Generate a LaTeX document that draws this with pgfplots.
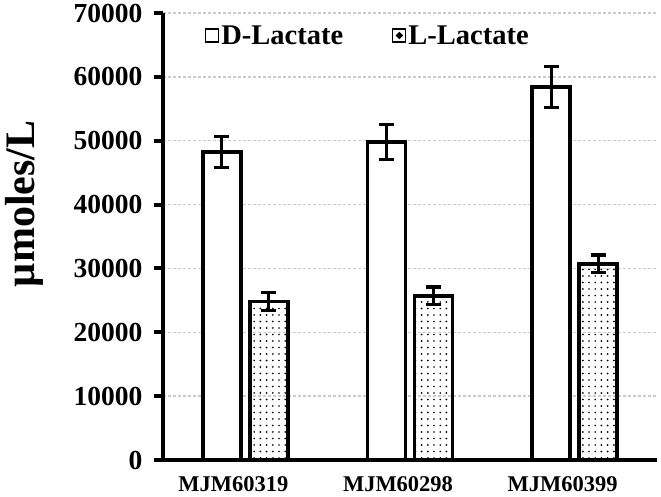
\documentclass[border=0pt]{standalone}
\usepackage{pgfplots}
\pgfplotsset{compat=1.18}
\usepackage{fontspec}
\setmainfont{Liberation Serif}
\usetikzlibrary{patterns.meta}
\tikzdeclarepattern{
  name=sparsedots,
  type=uncolored,
  bounding box={(-3pt,-3pt) and (3pt,3pt)},
  tile size={(6.2pt,6.5pt)},
  code={\fill (0pt,0pt) circle (0.95pt);}
}
\begin{document}
\begin{tikzpicture}
\begin{axis}[
  name=ax,
  at={(0,0)}, anchor=south west,
  scale only axis,
  width=494pt, height=447pt,
  ybar=9pt, bar width=38pt,
  xmin=-0.5, xmax=2.5,
  ymin=0, ymax=70000,
  xtick={0,1,2},
  xticklabels={MJM60319,MJM60298,MJM60399},
  xtick style={draw=none},
  ytick={0,10000,...,70000},
  scaled y ticks=false,
  axis x line=bottom, axis y line=left,
  axis line style={line width=4pt, -},
  tick align=outside,
  major tick length=9pt,
  ytick style={line width=4pt, black},
  ymajorgrids,
  major grid style={gray!40, line width=1.4pt, densely dashed},
  yticklabel style={font=\fontsize{27.5}{27.5}\selectfont\bfseries,
    /pgf/number format/1000 sep={}, /pgf/number format/assume math mode=true, xshift=-8pt},
  xticklabel style={font=\fontsize{22.5}{22.5}\selectfont\bfseries, xshift=-12pt, yshift=-4pt},
  ylabel={µmoles/L},
  ylabel style={font=\fontsize{42}{46}\selectfont\bfseries, at={(axis description cs:-0.2815,0.573)}, anchor=center},
  legend columns=2,
  legend style={draw=none, fill=none, at={(axis description cs:0.085,0.9485)}, anchor=west,
    font=\fontsize{28.5}{28.5}\selectfont\bfseries, inner sep=0pt,
    /tikz/every even column/.append style={column sep=47pt}},
  legend cell align=left,
  error bars/y dir=both, error bars/y explicit,
  error bars/error bar style={line width=3.2pt, black},
  error bars/error mark options={rotate=90, mark size=7.5pt, line width=3.2pt, black},
  after end axis/.code={
    \draw[line width=4.5pt, black] (rel axis cs:0,0) -- (rel axis cs:0,1);
    \foreach \k in {0,...,7}{\draw[line width=4pt, black] (rel axis cs:0,\k/7) -- ++(-9pt,0pt);}
  },
]
\addplot+[fill=white, draw=black, line width=3.6pt,
  legend image code/.code={\draw[black, line width=1.2pt, fill=white] (0pt,-6pt) rectangle (13pt,7pt);}]
  coordinates {(0,48200) +- (0,2400) (1,49800) +- (0,2800) (2,58400) +- (0,3250)};
\addlegendentry{D-Lactate}
\addplot+[pattern=sparsedots, pattern color=black, draw=black, line width=3.6pt,
  legend image code/.code={\draw[black, line width=1.2pt, fill=white] (0pt,-6pt) rectangle (13pt,7pt); \fill[black] (6.5pt,0.5pt) circle (1.2pt);}]
  coordinates {(0,24800) +- (0,1400) (1,25700) +- (0,1400) (2,30700) +- (0,1400)};
\addlegendentry{L-Lactate}
\end{axis}
\pgfresetboundingbox
\path[use as bounding box] (-163pt,-37pt) rectangle (498pt,460pt);
\end{tikzpicture}
\end{document}
